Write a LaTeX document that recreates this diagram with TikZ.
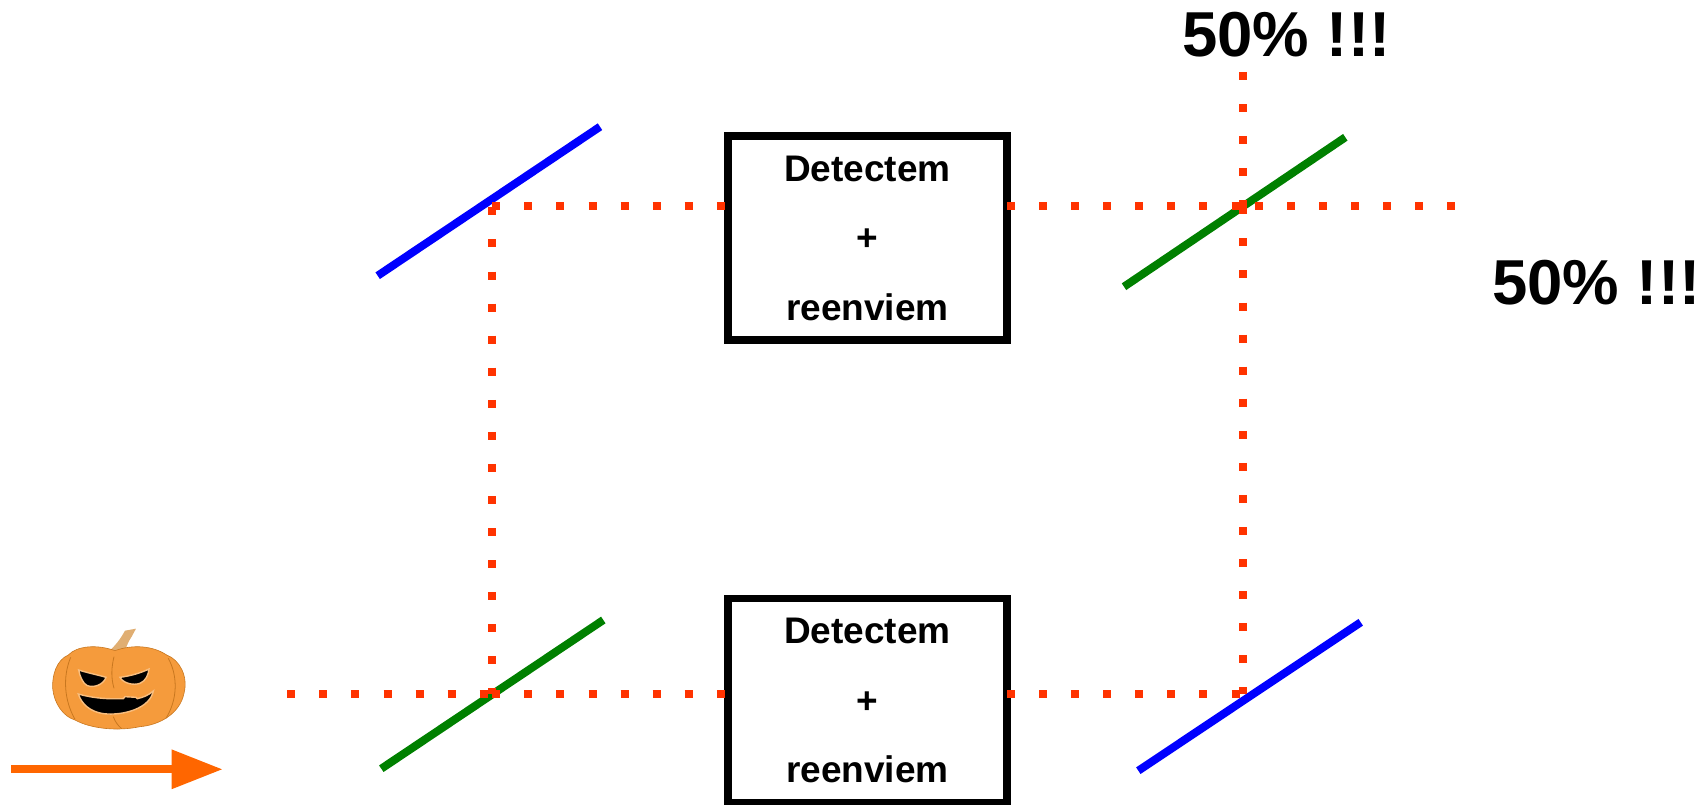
\documentclass[tikz,border=0pt]{standalone}
\usepackage{fontspec}
\setmainfont{Liberation Sans}
\usetikzlibrary{arrows.meta}

\begin{document}
\begin{tikzpicture}[x=1pt,y=-1pt,
  mirror/.style={line width=8pt},
  beam/.style={draw=colBeam, line width=8pt, dash pattern=on 8pt off 24.07pt},
  detbox/.style={draw=black, fill=white, line width=7.7pt, inner sep=0pt, outer sep=0pt,
    minimum width=279pt, minimum height=204pt, align=center,
    font=\fontsize{37}{69.5}\selectfont\bfseries},
  bigtxt/.style={anchor=base west, inner sep=0pt, font=\fontsize{63.5}{70}\selectfont\bfseries}]

% Colors
\definecolor{colBeam}{HTML}{FF3300}
\definecolor{colArrow}{HTML}{FF6600}
\definecolor{colMirrorA}{HTML}{0000FF}
\definecolor{colMirrorB}{HTML}{008000}
\definecolor{colPump}{HTML}{F59B3C}
\definecolor{colPumpDk}{HTML}{C8771F}
\definecolor{colPumpLt}{HTML}{F9BE7E}
\definecolor{colStem}{HTML}{E0AE72}

\useasboundingbox (0,0) rectangle (1708,805);

% Punts del circuit
\coordinate (msTL) at (492.3,206.3);
\coordinate (msTR) at (1243,206.3);
\coordinate (msBL) at (492.3,694.3);
\coordinate (msBR) at (1243,694.3);
\coordinate (inL) at (287.3,694.3);
\coordinate (outT) at (1243,72);
\coordinate (outR) at (1455,206.3);

% Miralls
\draw[mirror, colMirrorA] (377.7,275.7) -- (600,126.7);
\draw[mirror, colMirrorB] (1124,286.7) -- (1345.3,137.3);
\draw[mirror, colMirrorB] (381.3,768.7) -- (603.3,620);
\draw[mirror, colMirrorA] (1138.3,770.7) -- (1360.7,622.3);

% Caixes
\node[detbox] (detA) at (867.5,238) {Detectem\\+\\reenviem};
\node[detbox] (detB) at (867.5,700.5) {Detectem\\+\\reenviem};

% Feix de llum
\draw[beam] (inL) -- (msBL);
\draw[beam] (msBL) -- (msBL -| detB.west);
\draw[beam] (msBR -| detB.east) -- (msBR);
\draw[beam] (msTR) -- (msBR);
\draw[beam, dash phase=31pt] (msTL) -- (msBL);
\draw[beam] (msTL) -- (msTL -| detA.west);
\draw[beam] (msTR -| detA.east) -- (msTR);
\draw[beam, dash phase=20.07pt] (msTR) -- (outR);
\draw[beam] (outT) -- (msTR);

% Etiquetes
\node[bigtxt] (pctT) at (1182,56.7) {50\% !!!};
\node[bigtxt] (pctR) at (1492,304.3) {50\% !!!};

% Fletxa
\coordinate (arrA) at (11.3,769.3);
\coordinate (arrB) at (222.7,769.3);
\draw[colArrow, line width=8pt, -{Triangle[length=51pt,width=37.4pt]}] (arrA) -- (arrB);

% Carabassa
\begin{scope}[shift={(40,620)},x=0.3333pt,y=-0.3333pt]
\fill[colStem] (205,95) .. controls (232,72) and (245,50) .. (255,32) -- (288,26) -- (275,50)
  .. controls (262,70) and (255,85) .. (255,110) -- cycle;
\path[fill=colPump, draw=colPumpDk, line width=0.6pt] (225,92) .. controls (170,72) and (110,78) .. (85,105)
  .. controls (50,120) and (36,165) .. (38,205) .. controls (42,250) and (70,290) .. (105,300)
  .. controls (150,325) and (230,335) .. (300,320) .. controls (360,315) and (420,280) .. (432,220)
  .. controls (445,170) and (420,120) .. (380,105) .. controls (340,78) and (280,72) .. (225,92) -- cycle;
\draw[colPumpDk, line width=0.8pt] (222,110) .. controls (215,140) and (212,170) .. (222,205);
\draw[colPumpDk, line width=0.8pt] (220,290) .. controls (225,305) and (235,318) .. (245,326);
\draw[colPumpDk, line width=0.8pt] (92,112) .. controls (68,170) and (72,240) .. (105,298);
\draw[colPumpDk, line width=0.8pt] (385,115) .. controls (415,170) and (412,240) .. (378,295);
\path[fill=black, draw=colPumpLt, line width=1.4pt] (116,150) .. controls (140,158) and (175,165) .. (198,172)
  .. controls (190,195) and (160,205) .. (140,196) .. controls (128,188) and (120,170) .. (116,150) -- cycle;
\path[fill=black, draw=colPumpLt, line width=1.4pt] (327,147) .. controls (300,160) and (270,168) .. (240,172)
  .. controls (250,190) and (280,197) .. (300,190) .. controls (318,182) and (325,165) .. (327,147) -- cycle;
\path[fill=black, draw=colPumpLt, line width=1.4pt] (115,222) .. controls (150,232) and (190,238) .. (250,236)
  -- (255,230) -- (288,232) -- (292,236) .. controls (310,232) and (325,226) .. (340,213)
  .. controls (330,265) and (250,288) .. (190,281) .. controls (150,275) and (125,252) .. (115,222) -- cycle;
\end{scope}

\end{tikzpicture}
\end{document}
